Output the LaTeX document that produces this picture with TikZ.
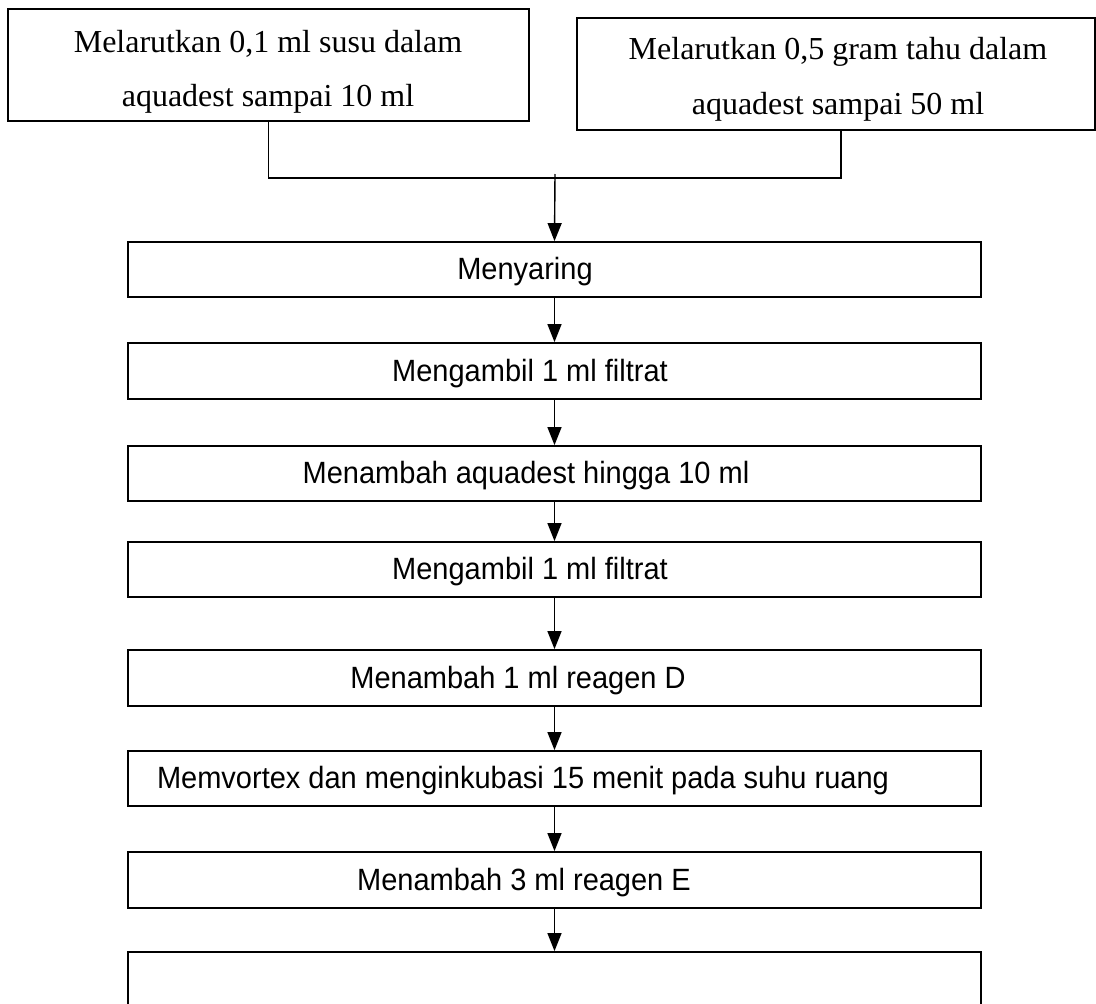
\documentclass[tikz,border=0pt]{standalone}
\usepackage{fontspec}
\setmainfont{Liberation Serif}
\newfontfamily\arialf{Liberation Sans}
\usetikzlibrary{arrows.meta}
\begin{document}
\begin{tikzpicture}[x=1pt,y=-1pt,
  box/.style={draw,line width=1.8pt,rectangle,inner sep=0pt,minimum width=853pt},
  txt/.style={anchor=base,inner sep=0pt,yscale=1.06,font=\arialf\fontsize{29}{34}\selectfont},
  stxt/.style={anchor=base,inner sep=0pt,font=\fontsize{32}{36}\selectfont},
  arr/.style={line width=1.4pt,-{Triangle[length=18pt,width=14pt]}},
  conn/.style={line width=1.4pt}]
\useasboundingbox (0,0) rectangle (1096,1004);
\clip (0,0) rectangle (1096,1004);
\fill[white] (0,0) rectangle (1096,1004);
% top boxes
\node[box,minimum width=521pt,minimum height=112pt] (t1) at (268.5,65) {};
\node[stxt] (t1a) at (268,52) {Melarutkan 0,1 ml susu dalam};
\node[stxt] (t1b) at (268,106) {aquadest sampai 10 ml};
\node[box,minimum width=518pt,minimum height=112pt] (t2) at (836,74) {};
\node[stxt] (t2a) at (838,59) {Melarutkan 0,5 gram tahu dalam};
\node[stxt] (t2b) at (838,114) {aquadest sampai 50 ml};
% steps
\node[box,minimum height=55pt] (b1) at (554.5,269.5) {};
\node[box,minimum height=56pt] (b2) at (554.5,371) {};
\node[box,minimum height=55pt] (b3) at (554.5,473.5) {};
\node[box,minimum height=55pt] (b4) at (554.5,569.5) {};
\node[box,minimum height=56pt] (b5) at (554.5,678) {};
\node[box,minimum height=55pt] (b6) at (554.5,778.5) {};
\node[box,minimum height=56pt] (b7) at (554.5,880) {};
\node[box,minimum height=108pt] (b8) at (554.5,1006) {};
\node[txt] (b1t) at (525,279.5) {Menyaring};
\node[txt] (b2t) at (530,381) {Mengambil 1 ml filtrat};
\node[txt] (b3t) at (526,483.5) {Menambah aquadest hingga 10 ml};
\node[txt] (b4t) at (530,579.5) {Mengambil 1 ml filtrat};
\node[txt] (b5t) at (518,688) {Menambah 1 ml reagen D};
\node[txt] (b6t) at (523,788) {Memvortex dan menginkubasi 15 menit pada suhu ruang};
\node[txt] (b7t) at (524,890) {Menambah 3 ml reagen E};
% connectors
\coordinate (j) at (555,178);
\coordinate (ja) at (555,174);
\draw[conn] (t1.south) |- (j);
\draw[conn] ([xshift=5pt]t2.south) |- (j);
\draw[arr] (ja) -- (b1.north);
\draw[arr] (b1.south) -- (b2.north);
\draw[arr] (b2.south) -- (b3.north);
\draw[arr] (b3.south) -- (b4.north);
\draw[arr] (b4.south) -- (b5.north);
\draw[arr] (b5.south) -- (b6.north);
\draw[arr] (b6.south) -- (b7.north);
\draw[arr] (b7.south) -- (b8.north);
\end{tikzpicture}
\end{document}
